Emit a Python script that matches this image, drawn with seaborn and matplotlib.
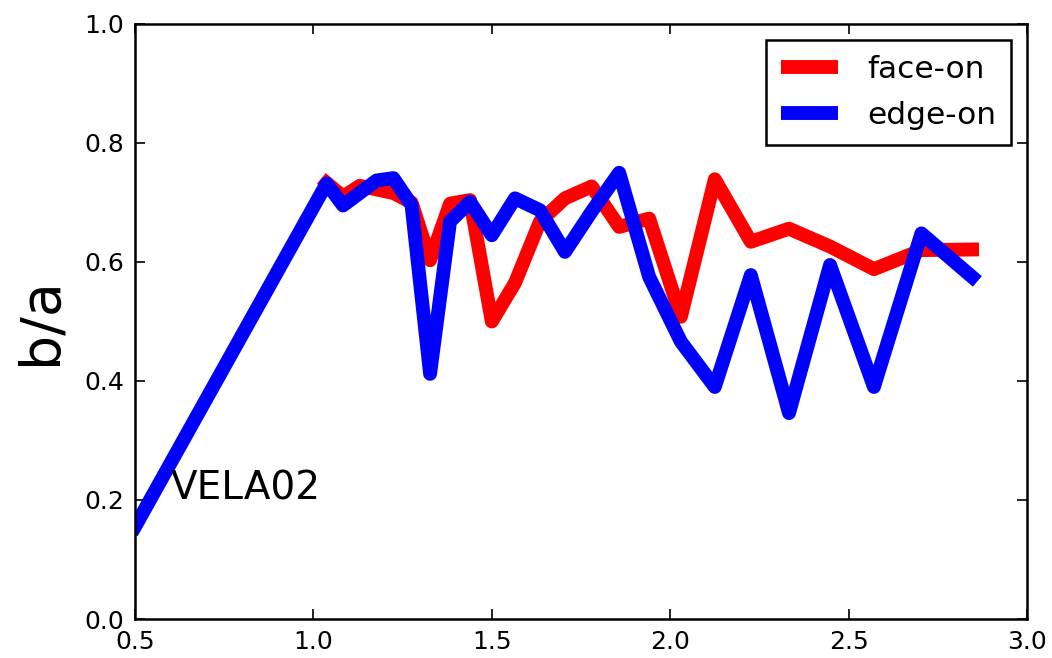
import matplotlib
matplotlib.use("Agg")
import matplotlib.pyplot as plt
from matplotlib.lines import Line2D
import pandas as pd
import seaborn as sns

# Redshift sampling and axis ratio b/a for the two projections
z_face = [1.037, 1.083, 1.130, 1.177, 1.224, 1.275, 1.327, 1.383, 1.439, 1.500,
          1.565, 1.635, 1.705, 1.780, 1.857, 1.941, 2.030, 2.125, 2.226, 2.333,
          2.448, 2.571, 2.704, 2.846]
ba_face = [0.733, 0.710, 0.728, 0.722, 0.716, 0.700, 0.603, 0.698, 0.704, 0.500,
           0.565, 0.668, 0.707, 0.727, 0.659, 0.673, 0.508, 0.739, 0.634, 0.656,
           0.626, 0.588, 0.620, 0.621]

z_edge = [0.500, 1.037, 1.083, 1.130, 1.177, 1.224, 1.275, 1.327, 1.383, 1.439,
          1.500, 1.565, 1.635, 1.705, 1.780, 1.857, 1.941, 2.030, 2.125, 2.226,
          2.333, 2.448, 2.571, 2.704, 2.846]
ba_edge = [0.155, 0.732, 0.695, 0.716, 0.737, 0.741, 0.696, 0.412, 0.668, 0.701,
           0.645, 0.707, 0.687, 0.617, 0.685, 0.750, 0.575, 0.466, 0.390, 0.578,
           0.346, 0.595, 0.390, 0.648, 0.575]

series_labels = ["face-on", "edge-on"]
series_colors = ["red", "blue"]
x_ticks = [0.5, 1.0, 1.5, 2.0, 2.5, 3.0]
y_ticks = [0.0, 0.2, 0.4, 0.6, 0.8, 1.0]
galaxy_name = "VELA02"
y_label = "b/a"

df = pd.concat([
    pd.DataFrame({"z": z_face, "ba": ba_face, "view": series_labels[0]}),
    pd.DataFrame({"z": z_edge, "ba": ba_edge, "view": series_labels[1]}),
], ignore_index=True)

sns.set_style("ticks")
plt.rcParams["font.family"] = ["DejaVu Sans"]
plt.rcParams["text.color"] = "black"
plt.rcParams["axes.labelcolor"] = "black"

fig = plt.figure(figsize=(10.52, 6.58), dpi=100)
ax = fig.add_axes([0.12833, 0.05927, 0.84791, 0.90426])

palette = dict(zip(series_labels, series_colors))
sns.lineplot(data=df, x="z", y="ba", hue="view", palette=palette,
             hue_order=series_labels, sort=False, estimator=None,
             linewidth=10, solid_capstyle="projecting", solid_joinstyle="round",
             legend=False, ax=ax)

ax.set_xlim(0.5, 3.0)
ax.set_ylim(0.0, 1.0)
ax.set_xticks(x_ticks)
ax.set_yticks(y_ticks)
ax.set_xticklabels([f"{t:.1f}" for t in x_ticks])
ax.set_yticklabels([f"{t:.1f}" for t in y_ticks])
ax.set_xlabel("")
ax.set_ylabel(y_label, fontsize=40, labelpad=12, color="black")

for side in ["top", "right", "bottom", "left"]:
    ax.spines[side].set_visible(True)
    ax.spines[side].set_linewidth(1.8)
    ax.spines[side].set_color("black")

ax.tick_params(axis="both", which="major", direction="in", length=7, width=1.2,
               top=True, right=True, labelsize=18, pad=8, colors="black")

ax.text(0.6, 0.2, galaxy_name, fontsize=28, color="black")

handles = [Line2D([], [], color=c, linewidth=10, solid_capstyle="butt")
           for c in series_colors]
leg = ax.legend(handles=handles, labels=series_labels, loc="upper right",
                fontsize=22.5, frameon=True, fancybox=False, shadow=False,
                framealpha=1, edgecolor="black", handlelength=1.85,
                borderaxespad=0.5, borderpad=0.48, labelspacing=0.55,
                handletextpad=0.93, labelcolor="black")
leg.get_frame().set_linewidth(1.8)

fig.savefig("out.png", dpi=100, facecolor="white")
